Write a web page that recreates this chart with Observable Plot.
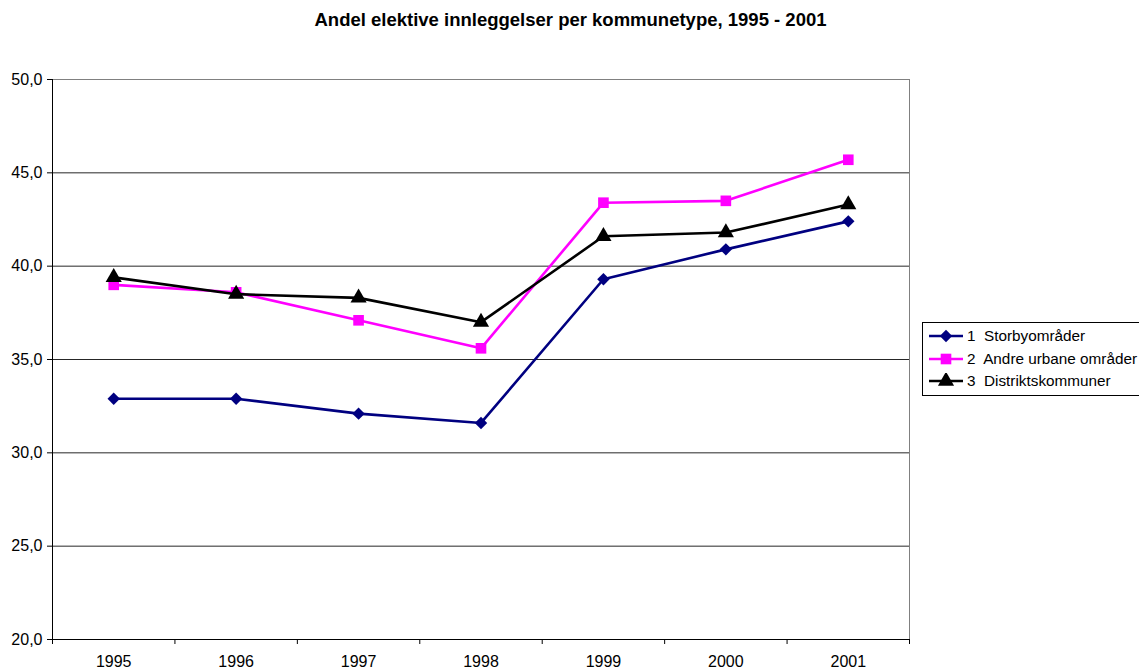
<!DOCTYPE html>
<html>
<head>
<meta charset="utf-8">
<script src="https://cdn.jsdelivr.net/npm/d3@7"></script>
<script src="https://cdn.jsdelivr.net/npm/@observablehq/plot@0.6"></script>
<style>
  html, body { margin: 0; padding: 0; background: #fff; }
  body { width: 1139px; height: 670px; position: relative; overflow: hidden; font-family: "Liberation Sans", Arial, sans-serif; }
  #title { height: 40px; line-height: 40px; text-align: center; font-weight: bold; font-size: 18.5px; color: #000; padding-left: 2px; }
  #legend { position: absolute; left: 922px; top: 322px; border: 1px solid #000; background: #fff; padding: 2px 4px 2px 4px; width: 240px; }
  #legend .row { display: flex; align-items: center; height: 22.5px; font-size: 15.3px; white-space: pre; }
  #legend svg { margin-right: 2px; }
</style>
</head>
<body>
<div id="title">Andel elektive innleggelser per kommunetype, 1995 - 2001</div>
<div id="chart"></div>
<div id="legend"></div>
<script>
const years = [1995, 1996, 1997, 1998, 1999, 2000, 2001];
const storby = [32.9, 32.9, 32.1, 31.6, 39.3, 40.9, 42.4];
const andre = [39.0, 38.6, 37.1, 35.6, 43.4, 43.5, 45.7];
const distrikt = [39.4, 38.5, 38.3, 37.0, 41.6, 41.8, 43.3];
const seriesNames = ["1  Storbyområder", "2  Andre urbane områder", "3  Distriktskommuner"];
const seriesColors = ["#000080", "#FF00FF", "#000000"];
const seriesSymbols = ["diamond2", "square", "triangle"];
const yTicks = [20, 25, 30, 35, 40, 45, 50];

const seriesValues = [storby, andre, distrikt];
const data = [];
seriesValues.forEach((vals, si) => vals.forEach((v, i) => data.push({year: years[i], value: v, series: seriesNames[si]})));
const boundaries = [years[0] - 0.5, ...years.map(y => y + 0.5)];
const yMax = d3.max(yTicks), yMin = d3.min(yTicks);

const lineMarks = [];
seriesNames.forEach((name, si) => {
  const d = data.filter(r => r.series === name);
  lineMarks.push(Plot.line(d, {x: "year", y: "value", stroke: seriesColors[si], strokeWidth: 2.6}));
  lineMarks.push(Plot.dot(d, {x: "year", y: "value", fill: seriesColors[si], stroke: "none",
    symbol: seriesSymbols[si], r: si === 0 ? 5.6 : 6.0}));
});

const chart = Plot.plot({
  width: 1139,
  height: 630,
  marginLeft: 52,
  marginRight: 230,
  marginTop: 39,
  marginBottom: 31,
  x: {domain: [boundaries[0], boundaries[boundaries.length - 1]], label: null},
  y: {domain: [yMin, yMax], label: null},
  style: {fontFamily: "'Liberation Sans', Arial, sans-serif", fontSize: "16px", background: "#fff", color: "#000"},
  marks: [
    Plot.ruleY(yTicks.filter(t => t !== yMax && t !== yMin), {stroke: "#000", strokeWidth: 1, strokeOpacity: 0.85}),
    Plot.ruleY([yMax], {stroke: "#808080", strokeWidth: 1}),
    Plot.ruleX([boundaries[boundaries.length - 1]], {stroke: "#808080", strokeWidth: 1}),
    Plot.axisY({ticks: yTicks, tickFormat: d => d.toFixed(1).replace(".", ","), tickSize: 5, tickPadding: 5, fontSize: 16, label: null}),
    Plot.axisX({ticks: years, tickFormat: d => String(d), tickSize: 0, tickPadding: 16, fontSize: 16, label: null}),
    Plot.axisX({ticks: boundaries, tickFormat: () => "", tickSize: 5, label: null}),
    Plot.ruleX([boundaries[0]], {stroke: "#000", strokeWidth: 1}),
    Plot.ruleY([yMin], {stroke: "#000", strokeWidth: 1}),
    ...lineMarks
  ]
});
document.getElementById("chart").appendChild(chart);

// Legend
const legend = d3.select("#legend");
seriesNames.forEach((name, si) => {
  const row = legend.append("div").attr("class", "row");
  const svg = row.append("svg").attr("width", 38).attr("height", 16);
  svg.append("line").attr("x1", 2).attr("x2", 36).attr("y1", 8).attr("y2", 8)
    .attr("stroke", seriesColors[si]).attr("stroke-width", 2.6);
  const symType = si === 0 ? d3.symbolDiamond2 : (si === 1 ? d3.symbolSquare : d3.symbolTriangle);
  const size = si === 0 ? 98 : 113;
  svg.append("path").attr("d", d3.symbol(symType, size)()).attr("transform", "translate(19,8)")
    .attr("fill", seriesColors[si]);
  row.append("span").text(name);
});
</script>
</body>
</html>
